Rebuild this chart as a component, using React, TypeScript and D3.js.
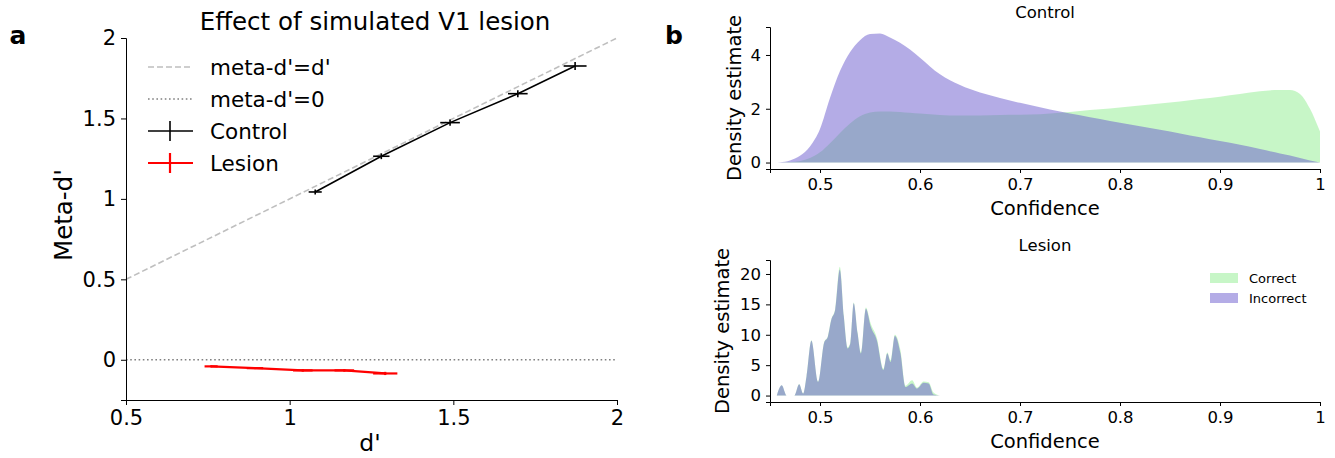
import React, { useEffect, useRef } from 'react';
import * as d3 from 'd3';

// ---- panel a: meta-d' vs d'
const controlD = [1.078, 1.28, 1.49, 1.697, 1.872];
const controlMeta = [1.043, 1.265, 1.474, 1.654, 1.826];
const controlDErr = [0.02, 0.025, 0.03, 0.03, 0.035];
const controlMetaErr = [0.015, 0.018, 0.02, 0.022, 0.025];

const lesionD = [0.76, 0.894, 1.04, 1.167, 1.292];
const lesionMeta = [-0.041, -0.052, -0.066, -0.066, -0.085];
const lesionDErr = [0.02, 0.025, 0.03, 0.03, 0.037];
const lesionMetaErr = [0.006, 0.006, 0.008, 0.008, 0.01];

const dTicks = [0.5, 1, 1.5, 2];
const metaTicks = [0, 0.5, 1, 1.5, 2];

// ---- panel b: confidence densities
const controlConf = [0.455, 0.46, 0.47, 0.48, 0.49, 0.5, 0.51, 0.52, 0.53, 0.54, 0.55, 0.56, 0.57, 0.58,
  0.59, 0.6, 0.62, 0.64, 0.66, 0.68, 0.7, 0.72, 0.74, 0.76, 0.78, 0.8, 0.82, 0.84, 0.86, 0.88, 0.9, 0.92,
  0.94, 0.96, 0.97, 0.98, 0.99, 1.0];
const controlCorrect = [0, 0.005, 0.02, 0.06, 0.17, 0.38, 0.72, 1.1, 1.45, 1.72, 1.86, 1.9, 1.9, 1.88,
  1.85, 1.82, 1.77, 1.75, 1.75, 1.77, 1.78, 1.8, 1.85, 1.92, 1.98, 2.05, 2.12, 2.2, 2.27, 2.36, 2.45, 2.55,
  2.65, 2.7, 2.7, 2.55, 2.0, 1.15];
const controlIncorrect = [0, 0.01, 0.08, 0.25, 0.6, 1.25, 2.4, 3.4, 4.1, 4.55, 4.78, 4.8, 4.65, 4.45,
  4.2, 3.9, 3.28, 2.88, 2.6, 2.4, 2.22, 2.06, 1.9, 1.76, 1.62, 1.48, 1.35, 1.22, 1.08, 0.94, 0.8, 0.66,
  0.5, 0.34, 0.26, 0.17, 0.08, 0];

const lesionConf = [0.4568, 0.4617, 0.4667, 0.4743, 0.4792, 0.4832, 0.4865, 0.4914, 0.498, 0.504,
  0.5079, 0.5112, 0.5152, 0.5198, 0.5238, 0.5277, 0.5304, 0.5337, 0.5376, 0.5409,
  0.5459, 0.5508, 0.5568, 0.5634, 0.5673, 0.5706, 0.5749, 0.5805, 0.5855, 0.5921,
  0.597, 0.6036, 0.6086, 0.6135, 0.62];
const lesionCorrect = [0, 1.7, 0, 0, 1.9, 0.35, 3.2, 9.1, 2.3, 8.7,
  9.8, 12.5, 14.3, 21.2, 13.2, 7.9, 8.8, 15.3, 10.4, 7.1,
  14.5, 11.8, 9.5, 4.4, 7.1, 5.8, 10.0, 7.4, 1.6, 2.5,
  1.3, 2.3, 2.2, 0.5, 0];
const lesionIncorrect = [0, 1.7, 0, 0, 1.87, 0.33, 3.1, 9.0, 2.25, 8.6,
  9.7, 12.4, 14.1, 20.7, 13.0, 7.75, 8.6, 15.2, 10.2, 6.9,
  14.3, 11.3, 9.1, 4.2, 6.9, 5.5, 9.8, 6.9, 1.4, 2.0,
  1.15, 2.1, 2.0, 0.16, 0];

const confTicks = [0.5, 0.6, 0.7, 0.8, 0.9, 1];
const controlDensTicks = [0, 2, 4];
const lesionDensTicks = [0, 5, 10, 15, 20];

const FONT = 'DejaVu Sans, sans-serif';
const GREEN = 'lightgreen';
const PURPLE = 'slateblue';

const fmt = (v: number) => String(v);

function styleAxis(g: any, size: number) {
  g.select('.domain').attr('stroke', '#000').attr('stroke-width', 1);
  g.selectAll('.tick line').attr('stroke', '#000');
  g.selectAll('.tick text').attr('font-family', FONT).attr('font-size', size).attr('fill', '#000');
}

export default function App() {
  const ref = useRef<SVGSVGElement | null>(null);

  useEffect(() => {
    const svg = d3.select(ref.current);
    svg.selectAll('*').remove();

    // ================= panel a
    const x = d3.scaleLinear().domain([0.5, 2]).range([126, 617]);
    const y = d3.scaleLinear().domain([-0.25, 2]).range([400, 38]);

    svg.append('text').attr('x', 18).attr('y', 44).attr('text-anchor', 'middle')
      .attr('font-family', FONT).attr('font-size', 25).attr('font-weight', 'bold').text('a');

    // reference lines
    svg.append('line').attr('x1', x(0.5)).attr('y1', y(0.5)).attr('x2', x(2)).attr('y2', y(2))
      .attr('stroke', '#bfbfbf').attr('stroke-width', 1.6).attr('stroke-dasharray', '6,3');
    svg.append('line').attr('x1', x(0.5)).attr('y1', y(0)).attr('x2', x(2)).attr('y2', y(0))
      .attr('stroke', '#808080').attr('stroke-width', 1.6).attr('stroke-dasharray', '1.6,2.6');

    const drawSeries = (ds: number[], ms: number[], dErr: number[], mErr: number[], color: string, lw: number) => {
      const pts = ds.map((d, i) => [d, ms[i]] as [number, number]);
      svg.append('path').datum(pts)
        .attr('d', d3.line<[number, number]>().x(p => x(p[0])).y(p => y(p[1])))
        .attr('fill', 'none').attr('stroke', color).attr('stroke-width', lw);
      const g = svg.append('g');
      ds.forEach((d, i) => {
        g.append('line').attr('x1', x(d - dErr[i])).attr('x2', x(d + dErr[i]))
          .attr('y1', y(ms[i])).attr('y2', y(ms[i])).attr('stroke', color).attr('stroke-width', lw);
        g.append('line').attr('x1', x(d)).attr('x2', x(d))
          .attr('y1', y(ms[i] - mErr[i])).attr('y2', y(ms[i] + mErr[i])).attr('stroke', color).attr('stroke-width', lw);
      });
    };
    drawSeries(controlD, controlMeta, controlDErr, controlMetaErr, '#000', 1.6);
    drawSeries(lesionD, lesionMeta, lesionDErr, lesionMetaErr, 'red', 2.2);

    const ax = svg.append('g').attr('transform', 'translate(0,400)')
      .call(d3.axisBottom(x).tickValues(dTicks).tickFormat(fmt as any).tickSizeOuter(0).tickSize(5).tickPadding(5));
    styleAxis(ax, 21);
    const ay = svg.append('g').attr('transform', 'translate(126,0)')
      .call(d3.axisLeft(y).tickValues(metaTicks).tickFormat(fmt as any).tickSizeOuter(0).tickSize(5).tickPadding(5));
    styleAxis(ay, 21);

    svg.append('text').attr('x', 375).attr('y', 30).attr('text-anchor', 'middle')
      .attr('font-family', FONT).attr('font-size', 24.5).text('Effect of simulated V1 lesion');
    svg.append('text').attr('x', 370).attr('y', 451).attr('text-anchor', 'middle')
      .attr('font-family', FONT).attr('font-size', 23.5).text("d'");
    svg.append('text').attr('transform', 'translate(63,215) rotate(-90)').attr('text-anchor', 'middle')
      .attr('dy', '0.35em').attr('font-family', FONT).attr('font-size', 24.5).text("Meta-d'");

    // legend a
    const legA = svg.append('g');
    const legRows = [
      { label: "meta-d'=d'", color: '#bfbfbf', dash: '6,3', bar: false, lw: 1.6 },
      { label: "meta-d'=0", color: '#808080', dash: '1.6,2.6', bar: false, lw: 1.6 },
      { label: 'Control', color: '#000', dash: null, bar: true, lw: 1.6 },
      { label: 'Lesion', color: 'red', dash: null, bar: true, lw: 2.2 },
    ];
    legRows.forEach((r, i) => {
      const cy = 67 + i * 32;
      const l = legA.append('line').attr('x1', 148).attr('x2', 193).attr('y1', cy).attr('y2', cy)
        .attr('stroke', r.color).attr('stroke-width', r.lw);
      if (r.dash) l.attr('stroke-dasharray', r.dash);
      if (r.bar) {
        legA.append('line').attr('x1', 170).attr('x2', 170).attr('y1', cy - 10).attr('y2', cy + 10)
          .attr('stroke', r.color).attr('stroke-width', r.lw);
      }
      legA.append('text').attr('x', 210).attr('y', cy).attr('dy', '0.35em')
        .attr('font-family', FONT).attr('font-size', 21.5).text(r.label);
    });

    // ================= panel b
    svg.append('text').attr('x', 674).attr('y', 44).attr('text-anchor', 'middle')
      .attr('font-family', FONT).attr('font-size', 25).attr('font-weight', 'bold').text('b');

    const xb = d3.scaleLinear().domain([0.45, 1]).range([770, 1320]);

    const drawDensity = (yScale: any, conf: number[], corr: number[], inc: number[], ticks: number[],
      top: number, bottom: number, title: string) => {
      const area = (vals: number[]) => d3.area<number>()
        .x((_, i) => xb(conf[i])).y0(yScale(0)).y1(v => yScale(v)).curve(d3.curveMonotoneX)(vals);
      svg.append('path').attr('d', area(corr)).attr('fill', GREEN).attr('fill-opacity', 0.5);
      svg.append('path').attr('d', area(inc)).attr('fill', PURPLE).attr('fill-opacity', 0.5);

      const gx = svg.append('g').attr('transform', `translate(0,${bottom})`)
        .call(d3.axisBottom(xb).tickValues(confTicks).tickFormat(fmt as any).tickSizeOuter(0).tickSize(4).tickPadding(5));
      styleAxis(gx, 16.5);
      const gy = svg.append('g').attr('transform', 'translate(770,0)')
        .call(d3.axisLeft(yScale).tickValues(ticks).tickFormat(fmt as any).tickSizeOuter(0).tickSize(4).tickPadding(5));
      styleAxis(gy, 16.5);

      svg.append('text').attr('x', 1045).attr('y', top - 9).attr('text-anchor', 'middle')
        .attr('font-family', FONT).attr('font-size', 16.5).text(title);
      svg.append('text').attr('x', 1045).attr('y', bottom + 46).attr('text-anchor', 'middle')
        .attr('font-family', FONT).attr('font-size', 19.5).text('Confidence');
    };

    const yTop = d3.scaleLinear().domain([-0.24, 5.04]).range([169, 27]);
    drawDensity(yTop, controlConf, controlCorrect, controlIncorrect, controlDensTicks, 27, 169, 'Control');
    svg.append('text').attr('transform', 'translate(734,98) rotate(-90)').attr('text-anchor', 'middle')
      .attr('dy', '0.35em').attr('font-family', FONT).attr('font-size', 19.5).text('Density estimate');

    const yBot = d3.scaleLinear().domain([-1.06, 22.3]).range([402, 260]);
    drawDensity(yBot, lesionConf, lesionCorrect, lesionIncorrect, lesionDensTicks, 260, 402, 'Lesion');
    svg.append('text').attr('transform', 'translate(722,331) rotate(-90)').attr('text-anchor', 'middle')
      .attr('dy', '0.35em').attr('font-family', FONT).attr('font-size', 19.5).text('Density estimate');

    // legend b
    const legB = [
      { label: 'Correct', color: GREEN },
      { label: 'Incorrect', color: PURPLE },
    ];
    legB.forEach((r, i) => {
      const cy = 278 + i * 20;
      svg.append('rect').attr('x', 1210).attr('y', cy - 5).attr('width', 28).attr('height', 10)
        .attr('fill', r.color).attr('fill-opacity', 0.5);
      svg.append('text').attr('x', 1249).attr('y', cy).attr('dy', '0.35em')
        .attr('font-family', FONT).attr('font-size', 13).text(r.label);
    });
  }, []);

  return (
    <svg ref={ref} width={1335} height={458}
      style={{ position: 'absolute', left: 0, top: 0, background: '#fff' }} />
  );
}
